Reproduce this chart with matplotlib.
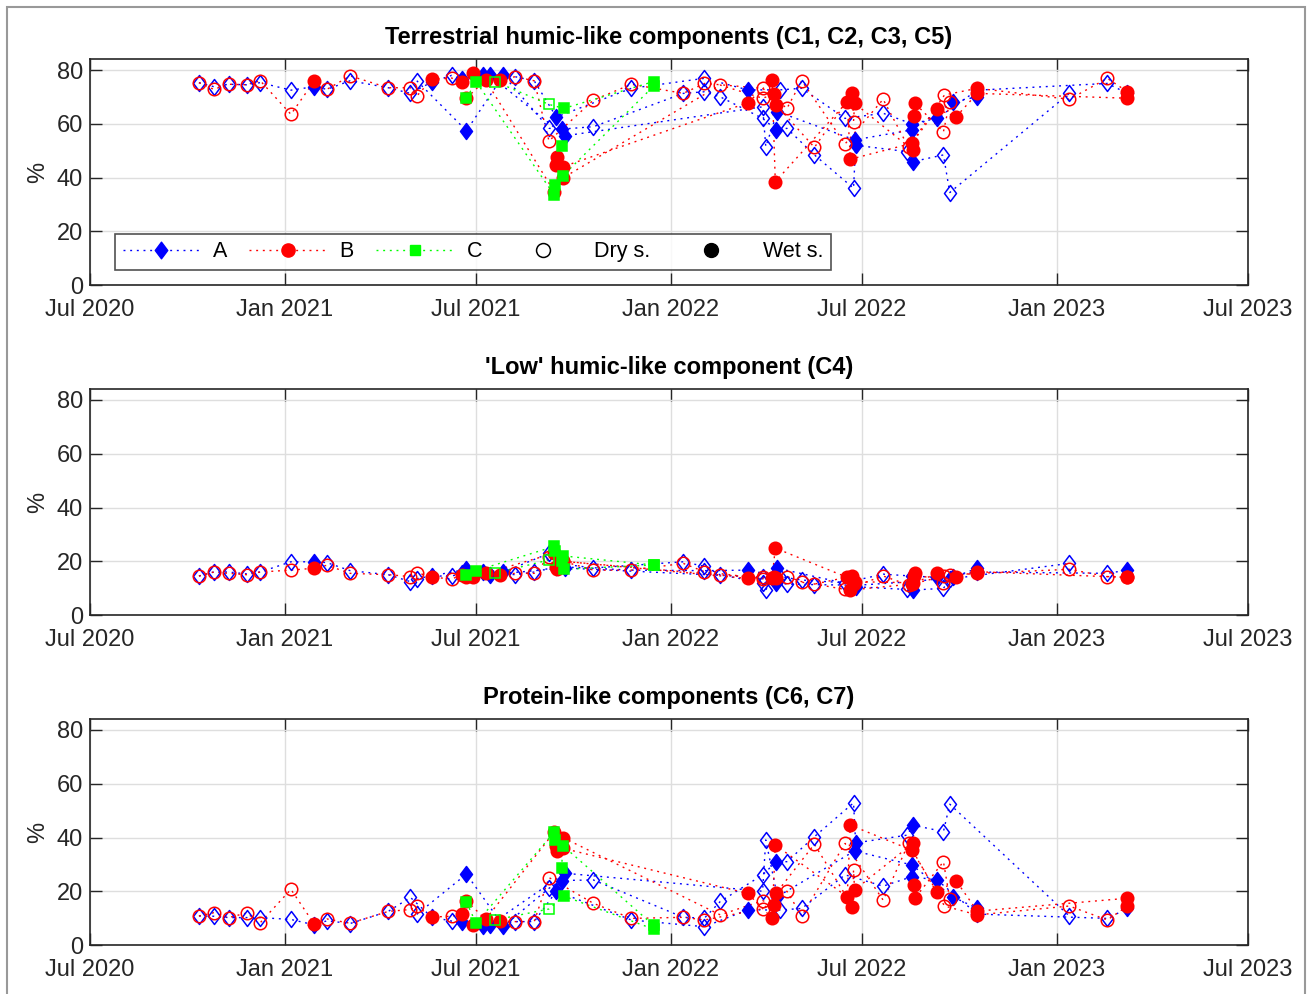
import numpy as np
import matplotlib
matplotlib.use('Agg')
import matplotlib.pyplot as plt
import matplotlib.dates as mdates
from matplotlib.lines import Line2D
from matplotlib.patches import Rectangle
from matplotlib.path import Path

plt.rcParams['font.family'] = ['Liberation Sans', 'DejaVu Sans']

# ---------------- data ----------------
titles = ['Terrestrial humic-like components (C1, C2, C3, C5)',
          "'Low' humic-like component (C4)",
          'Protein-like components (C6, C7)']
group_names = ['A', 'B', 'C']
season_names = ['Dry s.', 'Wet s.']
x_ticks = ['2020-07-01', '2021-01-01', '2021-07-01', '2022-01-01', '2022-07-01', '2023-01-01', '2023-07-01']
y_ticks = [0, 20, 40, 60, 80]

A_date = ['2020-10-12','2020-10-26','2020-11-09','2020-11-26','2020-12-09','2021-01-07','2021-01-29','2021-02-10',
          '2021-03-04','2021-04-09','2021-04-30','2021-05-06','2021-05-20','2021-06-08','2021-06-18','2021-06-22',
          '2021-07-08','2021-07-14','2021-07-27','2021-08-07','2021-08-25','2021-09-08','2021-09-15','2021-09-20',
          '2021-09-23','2021-10-20','2021-11-25','2022-01-13','2022-02-02','2022-02-02','2022-02-17','2022-03-15',
          '2022-03-29','2022-03-29','2022-04-01','2022-04-11','2022-04-12','2022-04-14','2022-04-21','2022-05-05',
          '2022-05-17','2022-06-15','2022-06-23','2022-06-24','2022-06-25','2022-07-21','2022-08-13','2022-08-17',
          '2022-08-17','2022-08-18','2022-09-10','2022-09-16','2022-09-22','2022-09-25','2022-10-18','2022-10-18',
          '2023-01-13','2023-02-18','2023-03-09']
A_top = [75.3,73.8,74.7,74.5,75.3,72.5,73.8,72.8,76.0,73.4,71.3,76.0,75.5,78.0,76.5,57.4,78.0,78.0,78.0,77.5,
         76.0,58.3,62.5,58.0,55.5,58.9,73.2,71.3,76.9,71.9,70.0,72.6,66.3,62.0,51.5,57.7,64.5,72.6,58.3,73.2,
         48.4,62.0,36.0,54.0,52.0,63.9,49.6,57.7,60.0,45.9,62.0,48.4,34.4,68.2,70.0,72.5,71.3,75.0,71.3]
A_mid = [14.5,16.0,16.0,15.3,16.0,19.8,19.8,19.5,16.5,15.0,12.4,13.5,14.5,14.5,15.5,17.0,16.0,15.0,16.0,15.0,
         16.0,22.9,18.0,19.0,17.5,17.5,16.7,19.8,16.5,18.1,14.9,16.7,14.0,12.0,9.3,12.0,17.4,14.3,11.5,13.0,
         11.3,12.0,11.1,11.0,10.5,15.2,9.5,12.4,14.5,9.3,14.0,9.9,13.4,14.0,17.4,16.0,19.2,15.5,16.7]
A_bot = [10.8,10.7,10.2,10.2,10.2,9.5,7.5,9.0,8.0,12.5,17.7,11.4,10.4,8.9,8.5,26.4,7.0,7.5,7.0,8.7,
         8.7,21.1,20.0,24.0,26.7,24.2,9.3,10.3,6.8,10.0,16.2,13.1,20.0,26.1,39.1,31.0,18.0,13.0,31.0,13.6,
         40.3,26.1,52.9,35.0,38.0,21.9,40.9,29.8,25.4,44.6,24.2,42.2,52.4,17.9,13.6,11.5,10.8,9.9,13.6]
A_wet = [0,0,0,0,0,0,1,0,0,0,0,0,1,0,1,1,1,1,1,0,0,0,1,1,1,0,0,0,0,0,0,1,0,0,0,1,1,0,0,0,
         0,0,0,1,1,0,0,1,1,1,1,0,0,1,1,1,0,0,1]
A_site = [1,1,1,1,1,1,1,1,1,1,1,2,1,1,1,2,1,3,2,1,1,2,1,2,3,2,1,2,1,2,2,1,3,2,3,2,3,1,2,1,
          2,1,2,3,2,1,2,3,1,2,1,2,2,3,3,1,2,1,1]

B_date = ['2020-10-12','2020-10-26','2020-11-09','2020-11-26','2020-12-09','2021-01-07','2021-01-29','2021-02-10',
          '2021-03-04','2021-04-09','2021-04-30','2021-05-06','2021-05-20','2021-06-08','2021-06-18','2021-06-22',
          '2021-06-28','2021-07-10','2021-07-24','2021-08-07','2021-08-25','2021-09-08','2021-09-13','2021-09-15',
          '2021-09-16','2021-09-21','2021-09-21','2021-10-20','2021-11-25','2022-01-13','2022-02-02','2022-02-17',
          '2022-03-15','2022-03-29','2022-03-29','2022-04-07','2022-04-09','2022-04-10','2022-04-11','2022-04-21',
          '2022-05-05','2022-05-17','2022-06-15','2022-06-17','2022-06-20','2022-06-22','2022-06-23','2022-06-24',
          '2022-07-21','2022-08-14','2022-08-17','2022-08-18','2022-08-19','2022-08-20','2022-09-10','2022-09-16',
          '2022-09-17','2022-09-22','2022-09-28','2022-10-18','2022-10-18','2023-01-13','2023-02-18','2023-03-09',
          '2023-03-09']
B_top = [75.3,72.8,74.7,74.5,76.0,63.5,75.9,72.8,77.8,73.4,73.4,70.3,76.5,77.0,75.7,69.5,78.8,76.3,76.3,77.5,
         76.0,53.6,34.7,44.6,47.8,44.0,39.8,68.8,74.7,71.3,75.0,74.4,67.8,73.2,69.5,76.3,71.0,38.4,67.0,65.7,
         76.0,51.2,52.5,68.2,46.8,71.3,60.8,67.6,69.1,51.2,52.7,50.2,62.9,67.6,65.4,57.0,70.7,68.2,62.6,73.2,
         71.3,69.1,76.9,71.9,69.5]
B_mid = [14.5,16.0,15.5,15.0,16.0,16.7,17.4,18.5,15.5,15.0,14.3,15.8,14.1,13.4,15.0,14.0,14.0,15.5,15.0,15.5,
         15.5,21.5,23.0,18.0,17.0,20.0,20.0,16.7,16.7,19.2,16.1,14.9,13.6,13.5,14.0,13.6,14.0,24.9,13.6,14.3,
         12.4,11.5,9.5,14.0,9.3,14.5,11.5,12.4,14.5,11.2,11.5,12.0,14.5,15.5,15.5,12.0,14.5,15.0,14.3,15.5,
         16.1,17.0,14.3,14.0,14.0]
B_bot = [10.8,12.0,10.2,11.9,8.3,20.7,7.8,9.7,8.1,12.5,13.2,14.5,10.4,10.7,11.4,16.5,7.3,9.5,9.0,8.7,
         8.7,25.1,42.0,37.0,35.0,36.0,40.0,15.5,9.9,10.3,9.3,11.2,19.2,13.5,16.5,10.0,15.0,37.2,19.4,20.0,
         10.8,37.5,37.8,18.0,44.6,14.3,27.9,20.5,16.7,37.8,35.3,37.8,22.3,17.4,19.8,31.0,14.5,17.1,23.9,11.2,
         12.6,14.5,9.3,14.5,17.4]
B_wet = [0,0,0,0,0,0,1,0,0,0,0,0,1,0,1,1,1,1,1,0,0,0,1,1,1,1,1,0,0,0,0,0,1,0,0,1,1,1,1,0,
         0,0,0,1,1,1,0,1,0,0,1,1,1,1,1,0,0,0,1,1,1,0,0,1,1]
B_site = [1,1,1,1,1,1,1,1,1,1,1,1,1,1,1,2,1,2,1,1,1,1,2,3,3,2,3,1,1,1,1,3,2,1,3,2,3,2,3,1,
          1,3,1,2,2,3,3,3,1,1,2,3,3,3,2,3,1,3,2,1,2,1,1,1,2]

C_date = ['2021-06-22','2021-07-01','2021-07-19','2021-09-08','2021-09-13','2021-09-14','2021-09-20',
          '2021-09-21','2021-09-22','2021-12-16','2021-12-16']
C_top = [69.5,75.7,75.7,67.2,33.5,37.2,51.7,40.6,65.7,75.7,74.0]
C_mid = [15.0,16.5,15.5,20.5,25.5,24.0,20.0,22.0,17.0,18.6,18.6]
C_bot = [16.0,8.1,9.3,13.4,42.0,39.0,28.5,37.0,18.2,5.9,7.3]
C_wet = [1,1,0,0,1,1,1,1,1,1,1]
C_site = [1,1,2,2,1,1,3,3,2,2,3]

# ---------------- style ----------------
DOTS = (0, (1.4, 3.4))
DARK = (0.15, 0.15, 0.15)
DIAMOND = Path([(0, 1), (0.75, 0), (0, -1), (-0.75, 0), (0, 1)],
               [Path.MOVETO, Path.LINETO, Path.LINETO, Path.LINETO, Path.CLOSEPOLY])
groups = [
    dict(date=A_date, vals=[A_top, A_mid, A_bot], wet=A_wet, site=A_site, color=(0, 0, 1), marker=DIAMOND, ms=11.5),
    dict(date=B_date, vals=[B_top, B_mid, B_bot], wet=B_wet, site=B_site, color=(1, 0, 0), marker='o', ms=9),
    dict(date=C_date, vals=[C_top, C_mid, C_bot], wet=C_wet, site=C_site, color=(0, 1, 0), marker='s', ms=7.5),
]

W, H = 1310, 994
fig = plt.figure(figsize=(W / 100, H / 100), dpi=100)
fig.patches.append(Rectangle((7 / W, -0.01), (1305 - 7) / W, (H - 7) / H + 0.01, transform=fig.transFigure,
                             fill=False, edgecolor=(0.6, 0.6, 0.6), lw=1.5))

panel_px = [(59.25, 285), (389.25, 615), (719.25, 945)]
xt = np.array(x_ticks, dtype='datetime64[D]')
axes = []
for p, (top, bot) in enumerate(panel_px):
    ax = fig.add_axes([90 / W, (H - bot) / H, 1158 / W, (bot - top) / H])
    axes.append(ax)
    for g in groups:
        d = np.array(g['date'], dtype='datetime64[D]')
        v = np.array(g['vals'][p], dtype=float)
        w = np.array(g['wet'], dtype=bool)
        s = np.array(g['site'])
        for k in np.unique(s):
            idx = np.where(s == k)[0]
            idx = idx[np.argsort(d[idx], kind='stable')]
            ax.plot(d[idx], v[idx], linestyle=DOTS, color=g['color'], lw=1.0, zorder=2)
            dd, vv, ww = d[idx], v[idx], w[idx]
            ax.plot(dd[~ww], vv[~ww], ls='none', marker=g['marker'], ms=g['ms'], mfc='none',
                    mec=g['color'], mew=1.1, zorder=3)
            ax.plot(dd[ww], vv[ww], ls='none', marker=g['marker'], ms=g['ms'], mfc=g['color'],
                    mec=g['color'], mew=1.1, zorder=3)
    ax.set_xlim(xt[0], xt[-1])
    ax.set_ylim(0, 84)
    ax.set_xticks(xt)
    ax.xaxis.set_major_formatter(mdates.DateFormatter('%b %Y'))
    ax.set_yticks(y_ticks)
    ax.grid(True, color=(0.87, 0.87, 0.87), lw=1.0, zorder=0)
    ax.set_axisbelow(True)
    ax.tick_params(direction='in', top=True, right=True, length=8.3, width=1.0, colors=DARK,
                   labelsize=17)
    ax.tick_params(axis='x', pad=10)
    ax.tick_params(axis='y', pad=5)
    for sp in ax.spines.values():
        sp.set_color(DARK)
        sp.set_linewidth(1.2)
    ax.set_ylabel('%', fontsize=17, color=DARK)
    ax.yaxis.set_label_coords(-0.035, 0.5)
    ax.set_title(titles[p], fontsize=17, fontweight='bold', color='black', pad=11)

handles = [
    Line2D([], [], color=(0, 0, 1), ls=DOTS, lw=1.0, marker=DIAMOND, ms=12, mfc=(0, 0, 1), mec=(0, 0, 1)),
    Line2D([], [], color=(1, 0, 0), ls=DOTS, lw=1.0, marker='o', ms=9.5, mfc=(1, 0, 0), mec=(1, 0, 0)),
    Line2D([], [], color=(0, 1, 0), ls=DOTS, lw=1.0, marker='s', ms=7.5, mfc=(0, 1, 0), mec=(0, 1, 0)),
    Line2D([], [], ls='none', marker='o', ms=10, mfc='none', mec='k', mew=1.1),
    Line2D([], [], ls='none', marker='o', ms=10, mfc='k', mec='k'),
]
leg = axes[0].legend(handles, group_names + season_names, loc='lower left',
                     bbox_to_anchor=(25 / 1158, 15 / 225.75, 716 / 1158, 38 / 225.75), mode='expand',
                     ncol=5, fontsize=15.5, handlelength=3.6, handletextpad=0.6, columnspacing=1.0,
                     frameon=True, fancybox=False, borderpad=0.35, borderaxespad=0.0)
leg.get_frame().set_edgecolor(DARK)
leg.get_frame().set_linewidth(1.2)

fig.savefig('out.png', dpi=100)
